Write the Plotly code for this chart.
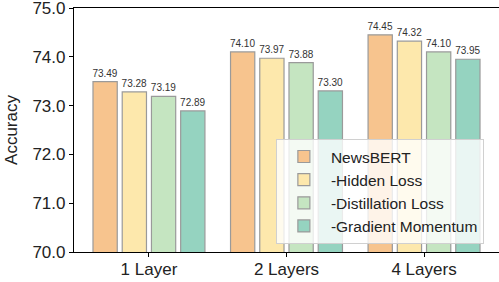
import plotly.graph_objects as go

categories = ["1 Layer", "2 Layers", "4 Layers"]
series_names = ["NewsBERT", "-Hidden Loss", "-Distillation Loss", "-Gradient Momentum"]
newsbert = [73.49, 74.10, 74.45]
hidden_loss = [73.28, 73.97, 74.32]
distill_loss = [73.19, 73.88, 74.10]
grad_momentum = [72.89, 73.30, 73.95]
y_ticks = [70.0, 71.0, 72.0, 73.0, 74.0, 75.0]

colors = ["#F7C48E", "#FDE8AC", "#C5E5C1", "#95D3C0"]
values = [newsbert, hidden_loss, distill_loss, grad_momentum]
FONT = "Liberation Sans, Arial, sans-serif"

fig = go.Figure()
for name, vals, col in zip(series_names, values, colors):
    fig.add_trace(go.Bar(
        x=categories, y=vals, name=name,
        marker=dict(color=col, line=dict(color="#9a9a9a", width=1.2)),
        text=[f"{v:.2f}" for v in vals], textposition="outside",
        textfont=dict(size=10, color="#333333", family=FONT),
        cliponaxis=False,
    ))

fig.update_layout(
    width=499, height=282,
    margin=dict(l=74, r=0, t=8, b=30, autoexpand=False),
    barmode="group", bargap=0.15, bargroupgap=0.17,
    plot_bgcolor="white", paper_bgcolor="white",
    font=dict(family=FONT, size=17, color="#222222"),
    showlegend=True,
    legend=dict(
        x=0.475, y=0.033, xanchor="left", yanchor="bottom",
        bgcolor="rgba(255,255,255,0.8)", bordercolor="#d0d0d0", borderwidth=1,
        font=dict(size=15.5, color="#222222"), itemwidth=44,
    ),
    uniformtext=dict(minsize=10, mode="show"),
)
fig.update_xaxes(
    range=[-0.545, 2.545], showline=True, linecolor="black", linewidth=1.2,
    mirror=True, ticks="outside", ticklen=4, tickcolor="black",
    tickfont=dict(size=17), showgrid=False, automargin=False,
    ticklabelstandoff=-3,
)
fig.update_yaxes(
    range=[70, 75], tickvals=y_ticks, ticktext=[f"{v:.1f}" for v in y_ticks],
    showline=True, linecolor="black", linewidth=1.2,
    ticks="outside", ticklen=4, tickcolor="black", ticklabeloverflow="allow",
    tickfont=dict(size=17), showgrid=False, automargin=False,
    title=dict(text="Accuracy", font=dict(size=17), standoff=10),
)

fig.write_html("out.html", config={"displayModeBar": False},
               post_script="document.body.style.margin='0px';")
